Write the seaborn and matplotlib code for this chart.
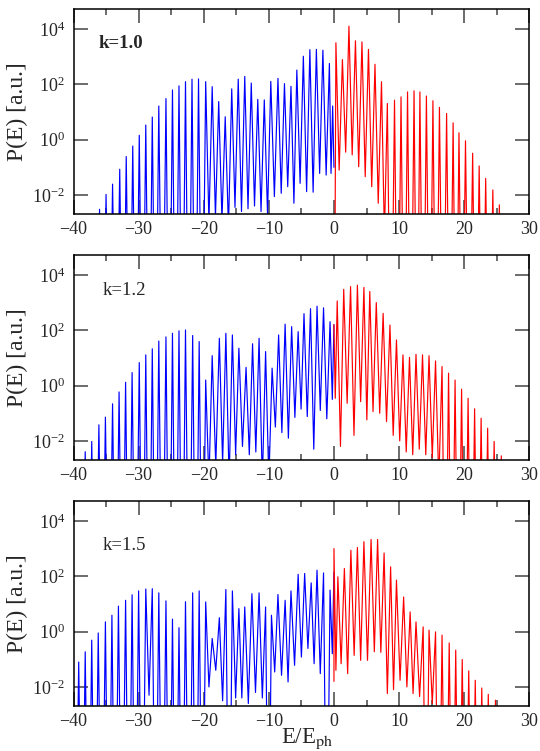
import numpy as np
import pandas as pd
import matplotlib
matplotlib.use("Agg")
import matplotlib.pyplot as plt
import seaborn as sns
from matplotlib.ticker import MultipleLocator, NullLocator, FixedLocator

# ---------------- data (log10 P(E)) ----------------
# Panel k=1.0
b1_left_x = [-36.5]
b1_left = [-10]
b1_x = [-36.0, -35.0, -34.0, -32.9, -31.9, -30.9, -29.9, -28.9, -27.9, -26.9,
        -25.8, -24.8, -23.8, -22.8, -21.8, -20.8, -19.7, -18.7, -17.7, -16.7,
        -15.7, -14.7, -13.7, -12.7, -11.7, -10.7, -9.7, -8.6, -7.6, -6.6,
        -5.7, -4.7, -3.7, -2.7, -1.7, -0.7, -0.2]
b1_peak = [-2.52, -1.98, -1.61, -1.07, -0.61, -0.23, 0.16, 0.53, 0.82, 1.22,
           1.49, 1.80, 1.95, 2.10, 2.19, 2.20, 2.10, 1.92, 1.38, 0.83,
           1.84, 2.19, 2.29, 2.05, 1.46, 1.44, 2.11, 2.22, 2.03, 1.93,
           2.52, 3.02, 3.26, 3.27, 3.24, 2.76, 1.22]
b1_min = [-10, -10, -10, -10, -10, -10, -10, -10, -10, -10,
          -10, -10, -10, -10, -10, -10, -3.0, -2.8, -2.9, -3.2,
          -2.45, -2.6, -2.5, -2.4, -2.6, -2.7, -2.06, -1.94, -1.7, -2.3,
          -1.58, -1.88, -1.9, -1.22, -1.28, -1.22]
b1_right_x = [0.0]
b1_right = [-1.0]

r1_left_x = [0.05]
r1_left = [-10]
r1_x = [0.3, 1.3, 2.3, 3.3, 4.3, 5.3, 6.3, 7.3, 8.2, 9.3, 10.3, 11.3, 12.3,
        13.2, 14.2, 15.2, 16.2, 17.3, 18.3, 19.2, 20.2, 21.3, 22.3, 23.3, 24.4, 25.4]
r1_peak = [3.51, 2.90, 4.11, 3.58, 3.54, 3.27, 2.73, 2.10, 1.31, 1.43, 1.55, 1.73, 1.77,
           1.73, 1.58, 1.41, 1.17, 0.95, 0.61, 0.25, -0.04, -0.49, -0.95, -1.40, -1.82, -2.36]
r1_min = [-1.10, -0.45, -0.55, -0.98, -1.34, -1.70, -2.30, -3.5, -10, -10, -10, -10, -10,
          -10, -10, -10, -10, -10, -10, -10, -10, -10, -10, -10, -10]
r1_right_x = [25.9]
r1_right = [-10]

# Panel k=1.2
b2_left_x = [-38.7]
b2_left = [-10]
b2_x = [-38.2, -37.2, -36.1, -35.1, -34.0, -33.0, -32.0, -31.0, -29.9, -28.9,
        -27.9, -26.9, -25.8, -24.8, -23.8, -22.8, -21.7, -20.7, -19.7, -18.7,
        -17.6, -16.6, -15.6, -14.6, -13.5, -12.5, -11.5, -10.5, -9.5, -8.5,
        -7.5, -6.5, -5.5, -4.6, -3.6, -2.6, -1.6, -0.6]
b2_peak = [-2.39, -2.02, -1.42, -1.14, -0.66, -0.23, 0.12, 0.47, 0.83, 1.11,
           1.33, 1.61, 1.76, 1.89, 1.98, 2.01, 1.81, 1.59, 0.20, 1.08,
           1.71, 1.89, 1.83, 1.35, 0.66, 1.51, 1.71, 1.23, 0.63, 1.83,
           2.22, 2.13, 1.95, 2.60, 2.78, 2.87, 2.81, 2.31]
b2_min = [-10, -10, -10, -10, -10, -10, -10, -10, -10, -10,
          -10, -10, -10, -10, -10, -10, -10, -10, -3.5, -2.9,
          -2.8, -3.5, -2.5, -2.2, -2.5, -2.4, -3.5, -3.5, -1.5, -1.7,
          -1.9, -1.15, -0.85, -1.12, -2.3, -0.9, -1.2]
b2_right_x = [-0.25, 0.0]
b2_right = [-0.5, 2.2]

r2_left_x = [0.0, 0.2]
r2_left = [2.2, -0.46]
r2_x = [0.5, 1.5, 2.55, 3.6, 4.6, 5.5, 6.5, 7.55, 8.6, 9.6, 10.6, 11.6, 12.6,
        13.6, 14.6, 15.6, 16.6, 17.6, 18.6, 19.6, 20.6, 21.6, 22.6, 23.6, 24.6, 25.7]
r2_peak = [3.06, 3.48, 3.58, 3.63, 3.55, 3.40, 3.00, 2.61, 2.19, 1.65, 1.11, 1.02, 1.13,
           1.11, 1.08, 0.89, 0.69, 0.45, 0.20, -0.13, -0.46, -0.84, -1.18, -1.54, -2.02, -2.54]
r2_min = [-2.2, -0.64, -1.8, -0.58, -1.24, -0.94, -1.0, -1.3, -1.8, -2.0, -2.4, -2.5, -2.3,
          -2.5, -2.6, -3.5, -10, -10, -10, -10, -10, -10, -10, -10, -10]
r2_right_x = [26.2]
r2_right = [-10]

# Panel k=1.5
b3_left_x = [-39.7]
b3_left = [-10]
b3_x = [-39.2, -38.2, -37.2, -36.2, -35.1, -34.1, -33.1, -32.0, -31.0, -30.0,
        -28.9, -27.9, -26.9, -25.8, -24.8, -23.8, -22.8, -21.7, -20.7, -19.7,
        -18.7, -17.6, -16.6, -15.6, -14.6, -13.7, -12.6, -11.5, -10.5, -9.6,
        -8.6, -7.5, -6.6, -5.5, -4.5, -3.5, -2.6, -1.6, -0.6]
b3_peak = [-1.10, -0.73, -0.31, -0.05, 0.35, 0.59, 0.92, 1.13, 1.33, 1.47,
           1.54, 1.55, 1.40, 1.11, 0.45, 0.14, 1.08, 1.40, 1.47, 1.07,
           -0.25, 0.50, 1.52, 1.47, 0.83, 0.89, 1.37, 1.40, 0.89, 0.59,
           1.34, 1.13, 1.47, 2.07, 2.10, 1.76, 2.22, 2.12, 1.50]
b3_min = [-10, -10, -10, -10, -10, -10, -10, -10, -10, -10,
          -2.3, -10, -10, -10, -10, -10, -10, -10, -10, -2.0,
          -1.4, -2.5, -10, -2.4, -2.4, -2.6, -2.2, -2.4, -10, -1.46,
          -1.58, -1.82, -1.22, -0.92, -0.61, -1.16, -1.52, -10]
b3_right_x = [-0.25, 0.0]
b3_right = [-0.8, 2.15]

r3_left_x = [0.0, 0.0, 0.3]
r3_left = [-1.8, 3.0, -1.4]
r3_x = [0.6, 1.6, 2.6, 3.6, 4.6, 5.7, 6.7, 7.7, 8.7, 9.6, 10.7, 11.7, 12.6,
        13.7, 14.6, 15.6, 16.6, 17.7, 18.7, 19.7, 20.7, 21.7, 22.7, 23.7, 24.8]
r3_peak = [1.98, 2.28, 2.94, 3.04, 3.25, 3.33, 3.33, 2.84, 2.34, 1.86, 1.25, 0.71, 0.35,
           0.17, 0.05, -0.01, -0.13, -0.41, -0.67, -1.01, -1.42, -1.76, -2.04, -2.27, -2.48]
r3_min = [-1.16, -1.52, -0.86, -1.04, -1.04, -0.73, -0.75, -2.24, -2.1, -1.76, -2.0, -2.24,
          -2.35, -10, -2.6, -10, -10, -10, -10, -10, -10, -10, -10, -10]
r3_right_x = [25.3]
r3_right = [-10]

labels = ["k=1.0", "k=1.2", "k=1.5"]
x_ticks = [-40, -30, -20, -10, 0, 10, 20, 30]
y_ticks = [1e-2, 1e0, 1e2, 1e4]


def trace(lx, lv, px, pv, mv, rx, rv):
    xs, vs = list(lx), list(lv)
    for i in range(len(px)):
        xs.append(px[i]); vs.append(pv[i])
        if i < len(mv):
            xs.append(0.5 * (px[i] + px[i + 1])); vs.append(mv[i])
    xs += list(rx); vs += list(rv)
    return pd.DataFrame({"E": xs, "P": np.power(10.0, np.array(vs, dtype=float))})


panels = [
    ((b1_left_x, b1_left, b1_x, b1_peak, b1_min, b1_right_x, b1_right),
     (r1_left_x, r1_left, r1_x, r1_peak, r1_min, r1_right_x, r1_right)),
    ((b2_left_x, b2_left, b2_x, b2_peak, b2_min, b2_right_x, b2_right),
     (r2_left_x, r2_left, r2_x, r2_peak, r2_min, r2_right_x, r2_right)),
    ((b3_left_x, b3_left, b3_x, b3_peak, b3_min, b3_right_x, b3_right),
     (r3_left_x, r3_left, r3_x, r3_peak, r3_min, r3_right_x, r3_right)),
]

sns.set_style("ticks")
plt.rcParams["font.family"] = ["Liberation Serif", "DejaVu Serif"]
plt.rcParams["mathtext.fontset"] = "stix"

fig = plt.figure(figsize=(5.40, 7.51), dpi=100)
W, H = 540.0, 751.0
ax_left, ax_right = 73.5, 529.3
tops = [9.3, 255.0, 501.0]
bottoms = [214.0, 460.0, 706.0]
label_pos = [(0.054, 0.81), (0.064, 0.805), (0.064, 0.761)]

for i, ((bl, rd), lab) in enumerate(zip(panels, labels)):
    ax = fig.add_axes([ax_left / W, 1 - bottoms[i] / H,
                       (ax_right - ax_left) / W, (bottoms[i] - tops[i]) / H])
    ax.set_yscale("log")
    sns.lineplot(data=trace(*bl), x="E", y="P", ax=ax, color="#0000ff", lw=0.85,
                 sort=False, estimator=None, legend=False)
    sns.lineplot(data=trace(*rd), x="E", y="P", ax=ax, color="#ff0000", lw=0.85,
                 sort=False, estimator=None, legend=False)
    ax.set_xlim(-40, 30)
    ax.set_ylim(10 ** -2.69, 10 ** 4.72)
    ax.xaxis.set_major_locator(FixedLocator(x_ticks))
    ax.xaxis.set_minor_locator(MultipleLocator(5))
    ax.yaxis.set_major_locator(FixedLocator(y_ticks))
    ax.yaxis.set_minor_locator(NullLocator())
    ax.tick_params(which="both", direction="in", top=True, right=True,
                   color="#444444", labelsize=13, width=1.1)
    ax.tick_params(which="major", length=10, pad=5)
    ax.tick_params(which="minor", length=4.3)
    ax.tick_params(axis="y", which="major", pad=6)
    for s in ax.spines.values():
        s.set_linewidth(1.1)
        s.set_color("black")
    ax.set_xlabel("")
    ax.set_ylabel("")
    ax.text(label_pos[i][0], label_pos[i][1], lab, transform=ax.transAxes,
            fontsize=13.5, fontweight="bold" if i == 0 else "normal", va="baseline")
    yc = 1 - 0.5 * (tops[i] + bottoms[i]) / H
    fig.text(17 / W, yc, "P(E) [a.u.]", rotation=90, ha="center", va="center", fontsize=17)

fig.text(0.5 * (ax_left + ax_right) / W + 0.01, 1 - 743 / H, r"E/E$_{\rm ph}$",
         ha="center", va="baseline", fontsize=16.5)

fig.savefig("out.png", dpi=100)
